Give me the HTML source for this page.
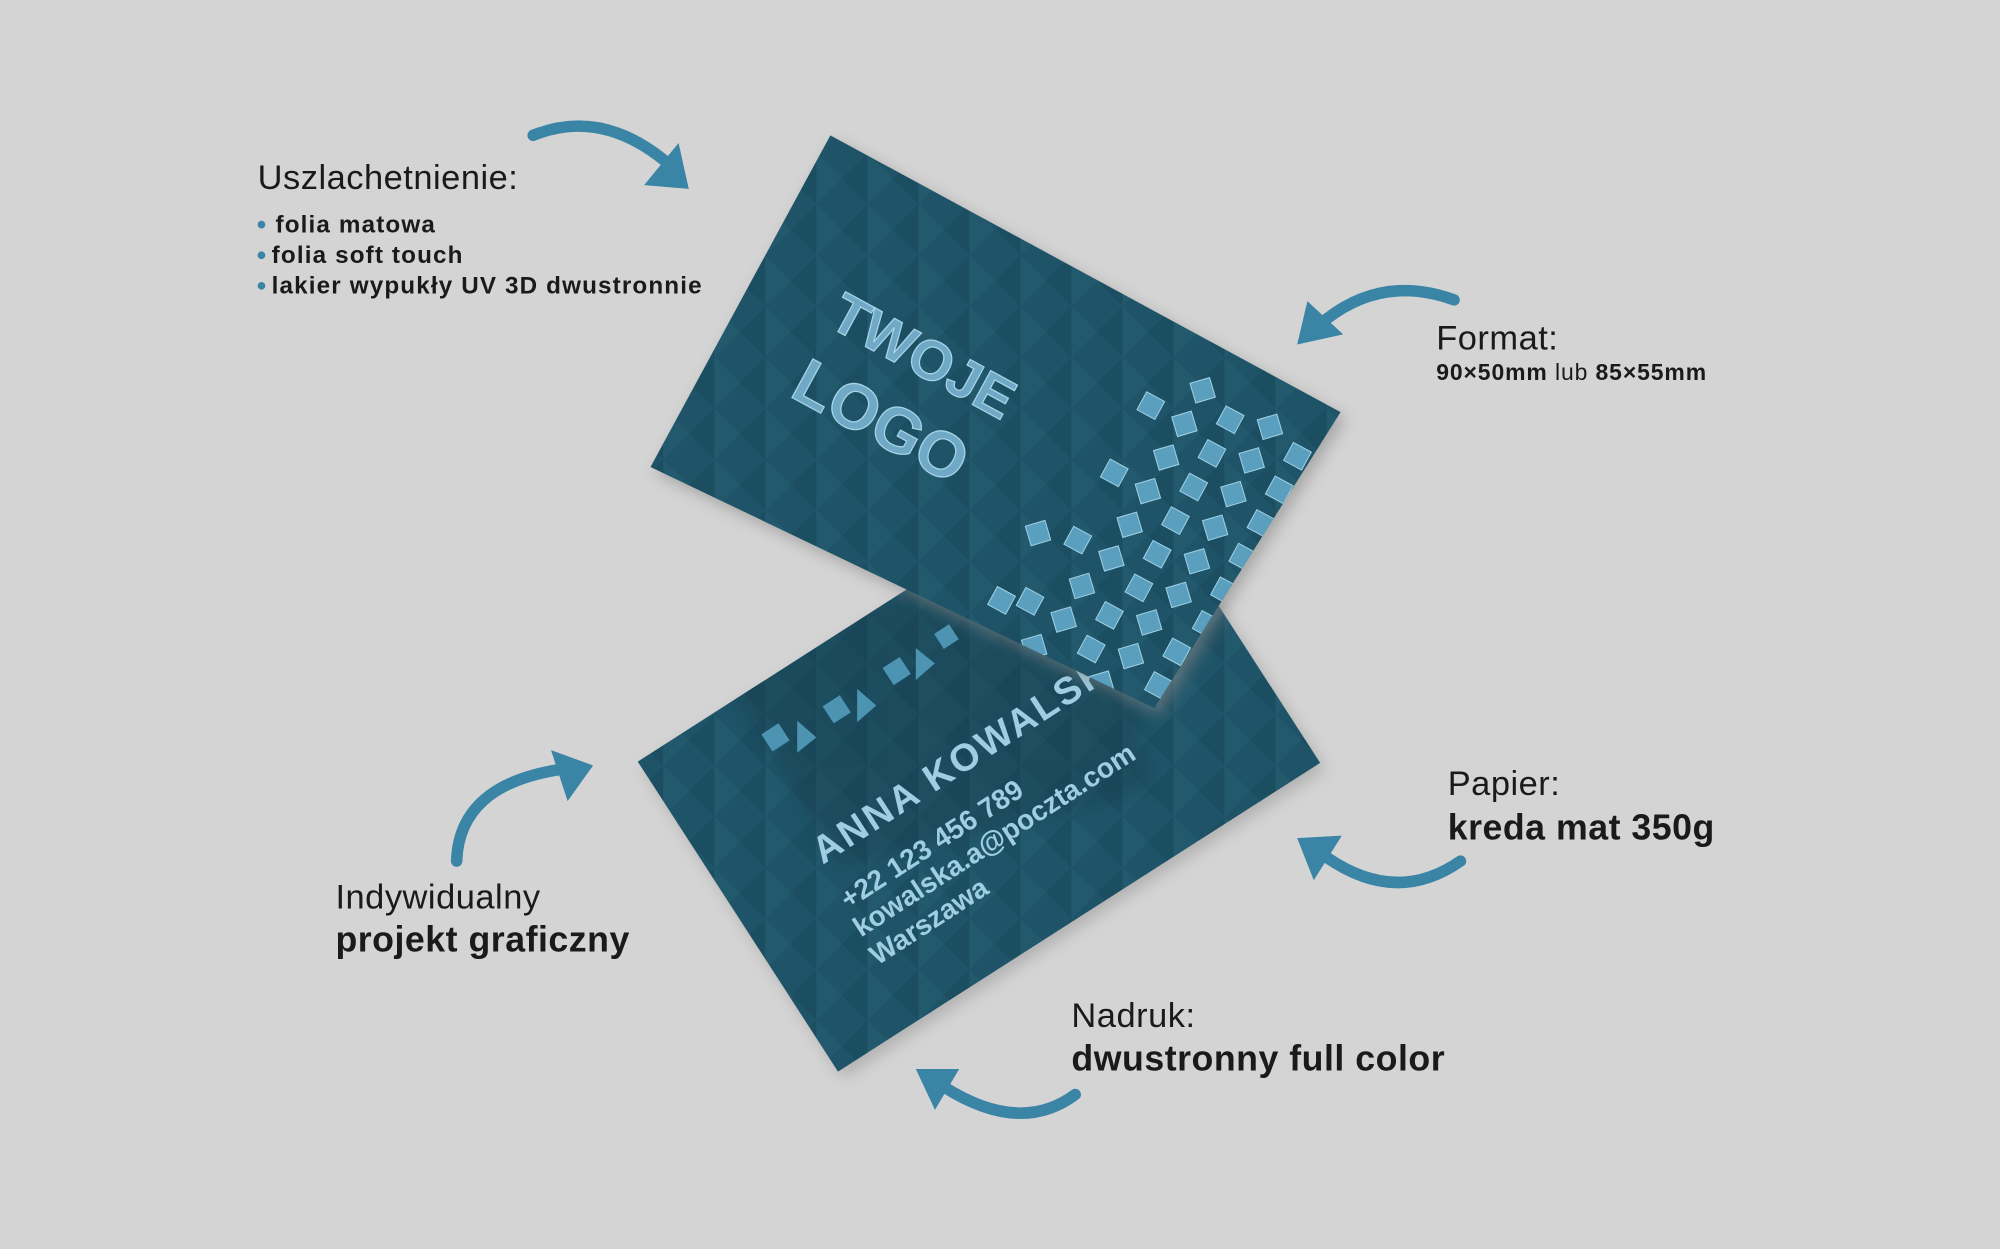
<!DOCTYPE html>
<html><head><meta charset="utf-8"><style>
html,body{margin:0;padding:0;background:#d4d4d4;}
svg{display:block}
</style></head><body>
<svg width="2000" height="1249" viewBox="0 0 1568 979" xmlns="http://www.w3.org/2000/svg">
<defs>
<pattern id="tri" width="40" height="40" patternUnits="userSpaceOnUse">
<rect width="40" height="40" fill="#1f5468"/>
<path d="M0 0 L20 20 L0 40 Z" fill="#23596d"/>
<path d="M40 0 L20 20 L40 40 Z" fill="#1c4e62"/>
</pattern>
<filter id="sh" x="-20%" y="-20%" width="140%" height="140%"><feGaussianBlur stdDeviation="6"/></filter>
<clipPath id="topc"><polygon points="651,106 1051,323 905,555 510,366"/></clipPath>
<clipPath id="botc"><polygon points="500,597 657,840 1035,598 878,355"/></clipPath>
</defs>
<rect width="1568" height="979" fill="#d4d4d4"/>

<polygon points="504,602 661,845 1039,603 882,360" fill="#9a9a9a" filter="url(#sh)" opacity="0.6"/>
<polygon points="500,597 657,840 1035,598 878,355" fill="url(#tri)"/>
<g clip-path="url(#botc)">
<polygon points="560,520 880,400 900,620 660,680" fill="#153a4a" opacity="0.35" filter="url(#sh)"/>
</g>
<g fill="#4d94b3">
<rect x="600" y="570" width="16" height="16" transform="rotate(-33 608 578)"/>
<polygon points="625,565 640,578 625,590"/>
<rect x="648" y="548" width="16" height="16" transform="rotate(-33 656 556)"/>
<polygon points="672,540 687,553 672,566"/>
<rect x="695" y="518" width="16" height="16" transform="rotate(-33 703 526)"/>
<polygon points="718,508 733,520 718,533"/>
<rect x="735" y="492" width="14" height="14" transform="rotate(-33 742 499)"/>
</g>
<g font-family="Liberation Sans, sans-serif" fill="#9fcde2" font-weight="bold">
<text x="0" y="0" font-size="30" transform="translate(645,678) rotate(-33)" letter-spacing="2">ANNA KOWALSKA</text>
<text x="0" y="0" font-size="22" transform="translate(665,713) rotate(-33)">+22 123 456 789</text>
<text x="0" y="0" font-size="22" transform="translate(675,735) rotate(-33)">kowalska.a@poczta.com</text>
<text x="0" y="0" font-size="22" transform="translate(688,757) rotate(-33)">Warszawa</text>
</g>

<polygon points="655,111 1055,328 909,560 514,371" fill="#888" filter="url(#sh)" opacity="0.6"/>
<polygon points="651,106 1051,323 905,555 510,366" fill="url(#tri)"/>
<g font-family="Liberation Sans, sans-serif" fill="#6fa9c6" stroke="#a9d3e6" stroke-width="1" font-weight="bold">
<text x="0" y="0" font-size="44" transform="translate(648,255) rotate(28.5)">TWOJE</text>
<text x="0" y="0" font-size="50" transform="translate(618,310) rotate(28.5)">LOGO</text>
</g>
<g clip-path="url(#topc)">
<g fill="#5b9fbf" stroke="#9fd0e4" stroke-width="0.8" transform="translate(900,410) rotate(28.5)">
<g id="row">
<rect x="-20" y="-120" width="16" height="16" transform="rotate(45 -12 -112)"/>
<rect x="10" y="-110" width="16" height="16"/>
<rect x="40" y="-120" width="16" height="16" transform="rotate(45 48 -112)"/>
<rect x="70" y="-110" width="16" height="16"/>
<rect x="-50" y="-90" width="16" height="16"/>
<rect x="-20" y="-90" width="16" height="16" transform="rotate(45 -12 -82)"/>
<rect x="10" y="-80" width="16" height="16"/>
<rect x="40" y="-90" width="16" height="16" transform="rotate(45 48 -82)"/>
<rect x="70" y="-80" width="16" height="16"/>
<rect x="100" y="-90" width="16" height="16"/>
</g>
<use href="#row" y="60"/>
<use href="#row" y="120"/>
<use href="#row" y="180" x="-10"/>
<use href="#row" y="240" x="-20"/>
<rect x="-80" y="40" width="16" height="16" transform="rotate(45 -72 48)"/>
<rect x="-80" y="100" width="16" height="16"/>
</g>
</g>

<g fill="none" stroke="#3a84a6" stroke-linecap="round">
<path d="M418,106 Q470,85 520,125" stroke-width="9"/>
<path d="M1140,235 Q1085,215 1040,250" stroke-width="9"/>
<path d="M358,675 Q360,615 440,603" stroke-width="9"/>
<path d="M1145,675 Q1095,710 1040,672" stroke-width="9"/>
<path d="M843,858 Q800,890 740,852" stroke-width="9"/>
</g>
<g fill="#3a84a6">
<polygon points="540,148 505,145 532,112"/>
<polygon points="1017,270 1025,236 1053,262"/>
<polygon points="465,600 445,628 432,588"/>
<polygon points="1017,657 1052,655 1030,690"/>
<polygon points="718,838 752,838 733,870"/>
</g>

<g font-family="Liberation Sans, sans-serif" fill="#1a1a1a">
<text x="202" y="148" font-size="27" letter-spacing="0.4">Uszlachetnienie:</text>
<g font-size="19" font-weight="bold" letter-spacing="0.9">
<text x="216" y="182">folia matowa</text>
<text x="213" y="206">folia soft touch</text>
<text x="213" y="230">lakier wypukły UV 3D dwustronnie</text>
</g>
<g fill="#3a84a6"><circle cx="205" cy="176" r="3"/><circle cx="205" cy="200" r="3"/><circle cx="205" cy="224" r="3"/></g>
<text x="1126" y="274" font-size="27" letter-spacing="0.4">Format:</text>
<text x="1126" y="298" font-size="18" letter-spacing="0.7"><tspan font-weight="bold">90×50mm</tspan> lub <tspan font-weight="bold">85×55mm</tspan></text>
<text x="1135" y="623" font-size="27" letter-spacing="0.4">Papier:</text>
<text x="1135" y="658" font-size="28" font-weight="bold" letter-spacing="0.4">kreda mat 350g</text>
<text x="263" y="712" font-size="27" letter-spacing="0.4">Indywidualny</text>
<text x="263" y="746" font-size="28" font-weight="bold" letter-spacing="0.4">projekt graficzny</text>
<text x="840" y="805" font-size="27" letter-spacing="0.4">Nadruk:</text>
<text x="840" y="839" font-size="28" font-weight="bold" letter-spacing="0.4">dwustronny full color</text>
</g>
</svg>
</body></html>
